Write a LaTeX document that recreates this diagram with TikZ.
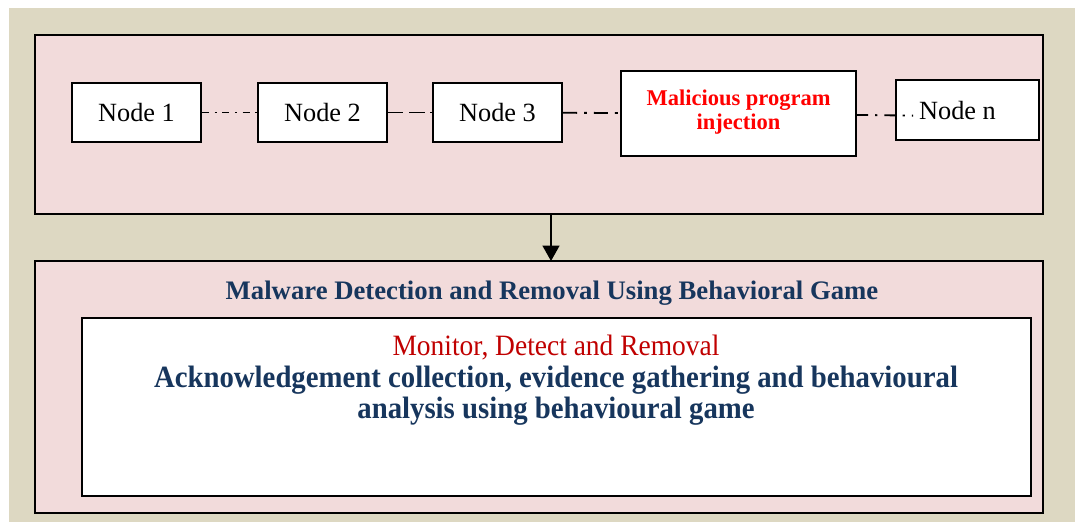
\documentclass[tikz,border=0pt]{standalone}
\usepackage{fontspec}
\setmainfont{Liberation Serif}
\newfontfamily\narrowserif[FakeStretch=0.93]{Liberation Serif}
\usetikzlibrary{arrows.meta}
\definecolor{pagebg}{HTML}{DDD8C2}
\definecolor{panelpink}{HTML}{F2DBDB}
\definecolor{gamenavy}{HTML}{17365D}
\definecolor{monred}{HTML}{C00000}

\begin{document}
\begin{tikzpicture}[x=0.025cm, y=-0.025cm,
      panel/.style={draw, line width=1.4pt, fill=panelpink},
      nodebox/.style={draw, line width=1.3pt, fill=white, minimum width=3.225cm, minimum height=1.475cm, font=\fontsize{18.7}{20}\selectfont},
      link/.style={line width=1.3pt},
      >={Triangle[length=11pt, width=12pt]},
    ]
    \useasboundingbox (0,0) rectangle (1075,522);
    \fill[pagebg] (9,8) rectangle (1075,522);

    % sensor network
    \draw[panel] (35,35) rectangle (1043,214);
    \node[nodebox] (n1) at (136.5,112.5) {Node 1};
    \node[nodebox] (n2) at (322.5,112.5) {Node 2};
    \node[nodebox] (n3) at (497.5,112.5) {Node 3};
    \node[nodebox, minimum width=5.875cm, minimum height=2.125cm, align=center,
          text=red, font=\fontsize{16}{17.5}\selectfont\bfseries] (mal) at (738.5,113.5)
          {Malicious program\\injection\vphantom{g}\vspace*{2pt}};
    \node[nodebox, minimum width=3.575cm, minimum height=1.5cm] (nn) at (967.5,110) {\hspace*{-0.5cm}Node n};

    \draw[link, dash pattern=on 5pt off 4pt on 1.5pt off 4pt] (n1) -- (n2);
    \draw[link, dash pattern=on 11pt off 4pt] (n2) -- (n3);
    \draw[link, dash pattern=on 10pt off 5pt on 2pt off 5pt] (n3) -- (mal);
    \draw[link, dash pattern=on 8pt off 5pt on 1.5pt off 5pt] ([yshift=-1pt]mal.east) -- ([xshift=0.45cm, yshift=-4pt]nn.west);

    % detection panel
    \draw[panel] (35,261) rectangle (1043,513);
    \draw[->, line width=1.4pt] (551,214) -- (551,261);
    \node[text=gamenavy, font=\fontsize{19}{21}\selectfont\bfseries] (title) at (552,293)
          {Malware Detection and Removal Using Behavioral Game};
    \draw[line width=1.3pt, fill=white] (82,318) rectangle (1031,496);
    \node[text=monred, font=\narrowserif\fontsize{21}{22}\selectfont] (mon) at (556,348)
          {Monitor, Detect and Removal};
    \node[text=gamenavy, align=center, font=\narrowserif\fontsize{22}{22}\selectfont\bfseries] (ack) at (556,396)
          {Acknowledgement collection, evidence gathering and behavioural\\analysis using behavioural game};
\end{tikzpicture}
\end{document}
